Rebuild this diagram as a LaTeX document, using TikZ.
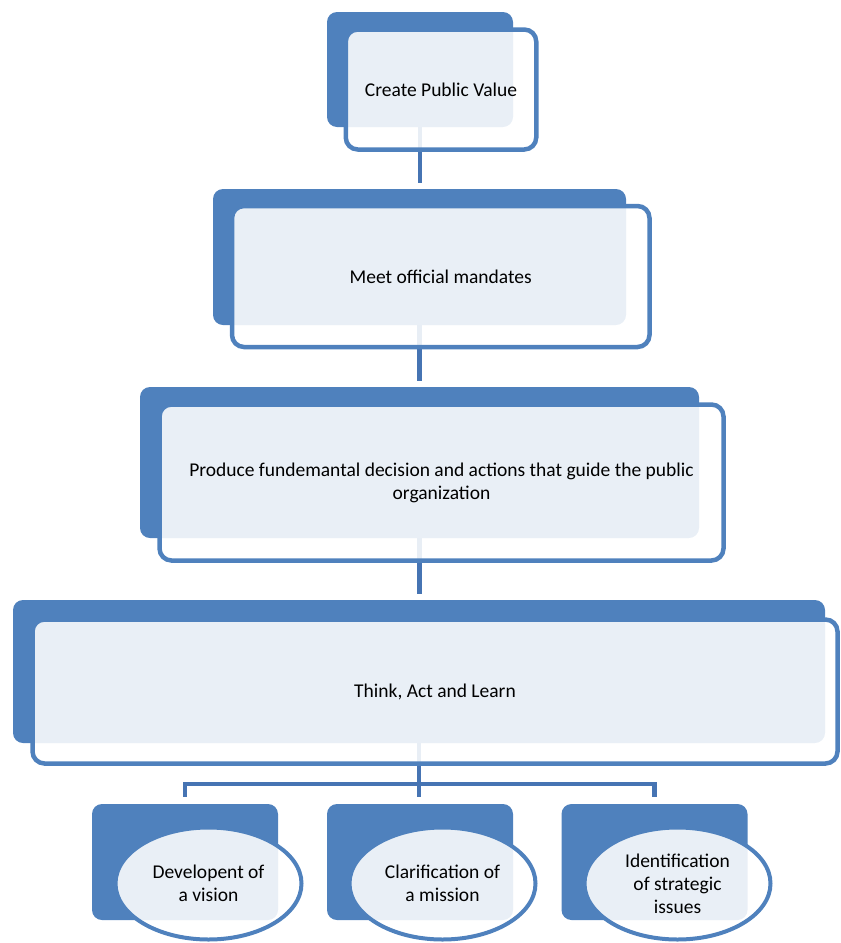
\documentclass[tikz,border=0pt]{standalone}
\usepackage{fontspec}
\setmainfont{Carlito}
\usetikzlibrary{shapes.geometric}
\definecolor{bblue}{HTML}{4F81BD}
\definecolor{lblue}{HTML}{4674B3}
\tikzset{
  backbox/.style={fill=bblue, draw=none, rounded corners=10pt, inner sep=0pt},
  frontbox/.style={draw=bblue, line width=4.5pt, fill=white, fill opacity=0.88, text opacity=1,
    rounded corners=12pt, inner sep=0pt, align=center, font=\fontsize{19.5}{23}\selectfont},
  ellbox/.style={ellipse, draw=bblue, line width=4pt, fill=white, fill opacity=0.88, text opacity=1,
    inner sep=0pt, align=center, font=\fontsize{19.5}{23}\selectfont},
  conn/.style={draw=lblue, line width=4.5pt}
}
\begin{document}
\begin{tikzpicture}[x=1pt,y=-1pt]
\useasboundingbox (0,0) rectangle (841,943);
% back rectangles
\node[backbox, minimum width=186pt, minimum height=115pt] (b1back) at (420,69.5) {};
\node[backbox, minimum width=413pt, minimum height=136pt] (b2back) at (419.5,257) {};
\node[backbox, minimum width=559pt, minimum height=151pt] (b3back) at (419.5,462.5) {};
\node[backbox, minimum width=812pt, minimum height=143pt] (b4back) at (419,671.5) {};
\node[backbox, minimum width=186pt, minimum height=116pt] (s1back) at (185,862) {};
\node[backbox, minimum width=186pt, minimum height=116pt] (s2back) at (420,862) {};
\node[backbox, minimum width=186pt, minimum height=116pt] (s3back) at (654.5,862) {};
\coordinate (bus) at (419,784);
% connectors
\draw[conn, shorten >=6pt] (b1back.south) -- (b1back.south |- b2back.north);
\draw[conn, shorten >=6pt] (b2back.south) -- (b2back.south |- b3back.north);
\draw[conn, shorten >=6pt] (b3back.south) -- (b3back.south |- b4back.north);
\draw[conn, shorten >=7pt] (b4back.south) -- (b4back.south |- s2back.north);
\draw[conn, shorten <=7pt, shorten >=7pt] (s1back.north) |- (bus) -| (s3back.north);
% front boxes
\node[frontbox, minimum width=190.5pt, minimum height=120pt] (b1) at (441,89.5) {Create Public Value};
\node[frontbox, minimum width=417.5pt, minimum height=141pt] (b2) at (440.75,276.5) {Meet official mandates};
\node[frontbox, minimum width=564pt, minimum height=156pt] (b3) at (441.5,482.5) {Produce fundemantal decision and actions that guide the public\\organization};
\node[frontbox, minimum width=805pt, minimum height=144pt] (b4) at (435,691.5) {Think, Act and Learn};
\node[ellbox, minimum width=186pt, minimum height=112pt] (s1) at (208.5,883.5) {Developent of\\a vision};
\node[ellbox, minimum width=186pt, minimum height=112pt] (s2) at (442.5,883.5) {Clarification of\\a mission};
\node[ellbox, minimum width=186pt, minimum height=112pt] (s3) at (677.5,883.5) {Identification\\of strategic\\issues};
\end{tikzpicture}
\end{document}
